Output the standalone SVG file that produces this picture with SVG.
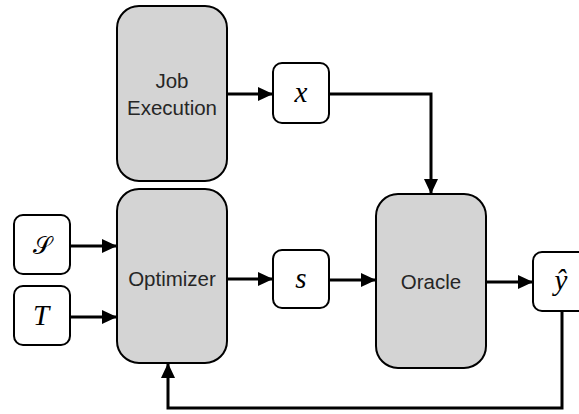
<svg xmlns="http://www.w3.org/2000/svg" width="579" height="414" viewBox="0 0 579 414">
  <style>
    .block { fill: #d4d4d4; stroke: #000; stroke-width: 2; }
    .var { fill: #fff; stroke: #000; stroke-width: 2; }
    .label { font-family: "Liberation Sans", Arial, sans-serif; font-size: 20.5px; fill: #262626; text-anchor: middle; }
    .math { font-family: "Liberation Serif", "Times New Roman", serif; font-style: italic; font-size: 29px; fill: #000; text-anchor: middle; }
    .wire { fill: none; stroke: #000; stroke-width: 3; marker-end: url(#head); }
  </style>
  <defs>
    <marker id="head" markerUnits="userSpaceOnUse" markerWidth="16" markerHeight="15" refX="15" refY="7" orient="auto">
      <path d="M0,0 L15,7 L0,14 Z" fill="#000"/>
    </marker>
  </defs>

  <rect width="579" height="414" fill="#fff"/>

  <g id="connectors">
    <path class="wire" d="M227,94 H273"/>
    <path class="wire" d="M329,94 H431 V194"/>
    <path class="wire" d="M70,246 H117"/>
    <path class="wire" d="M70,317 H117"/>
    <path class="wire" d="M227,279 H273"/>
    <path class="wire" d="M329,280 H376"/>
    <path class="wire" d="M486,282 H533"/>
    <path class="wire" d="M562,311 V408 H168 V363"/>
  </g>

  <g id="job-execution">
    <rect class="block" x="117" y="6" width="110" height="175" rx="22"/>
    <text class="label" x="172" y="88">Job</text>
    <text class="label" x="172" y="115">Execution</text>
  </g>

  <g id="optimizer">
    <rect class="block" x="117" y="189" width="110" height="174" rx="22"/>
    <text class="label" x="172" y="286">Optimizer</text>
  </g>

  <g id="oracle">
    <rect class="block" x="376" y="194" width="110" height="174" rx="22"/>
    <text class="label" x="431" y="289">Oracle</text>
  </g>

  <g id="var-x">
    <rect class="var" x="273" y="63" width="56" height="60" rx="9"/>
    <text class="math" x="301" y="102">x</text>
  </g>

  <g id="var-s">
    <rect class="var" x="273" y="250" width="56" height="58" rx="9"/>
    <text class="math" x="301" y="288">s</text>
  </g>

  <g id="var-S">
    <rect class="var" x="14" y="215" width="56" height="59" rx="9"/>
    <text class="math" x="42" y="254" style="font-style: normal; font-family: 'DejaVu Serif', 'Noto Sans', serif; font-size: 24px;">𝒮</text>
  </g>

  <g id="var-T">
    <rect class="var" x="14" y="286" width="56" height="59" rx="9"/>
    <text class="math" x="41" y="325">T</text>
  </g>

  <g id="var-yhat">
    <rect class="var" x="533" y="252" width="56" height="59" rx="9"/>
    <text class="math" x="561" y="290">ŷ</text>
  </g>
</svg>
